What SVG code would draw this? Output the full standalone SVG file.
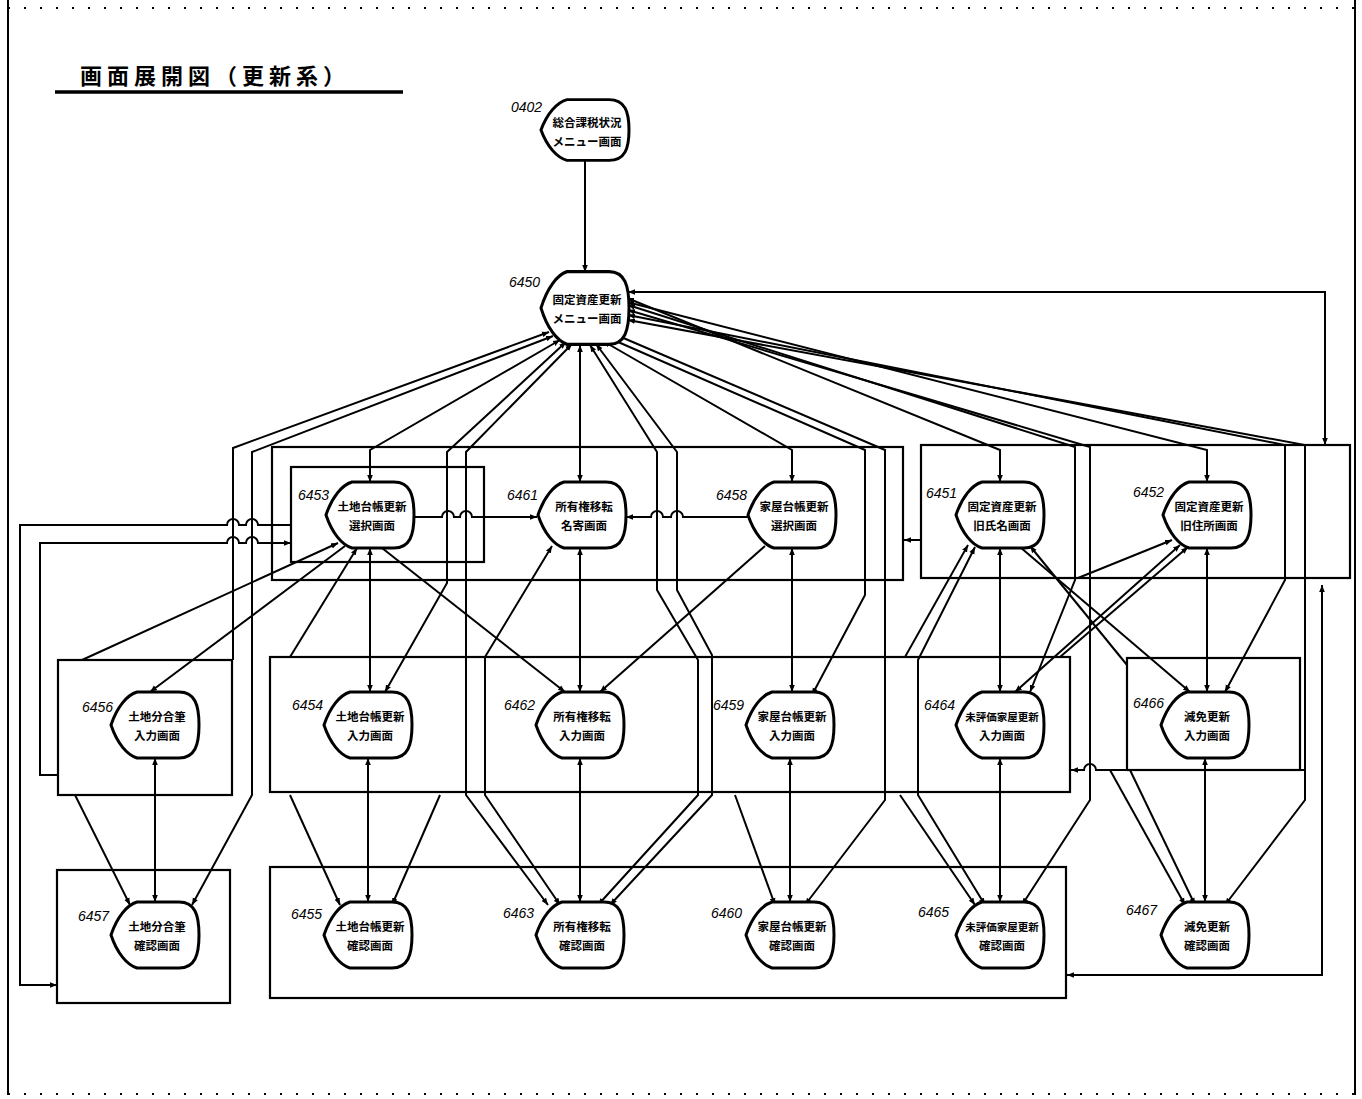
<svg xmlns="http://www.w3.org/2000/svg" width="1362" height="1099" viewBox="0 0 1362 1099">
<defs>
<style>
.c{fill:none;stroke:#000;stroke-width:2}
.b{fill:none;stroke:#000;stroke-width:2.2}
.n{fill:#fff;stroke:#000;stroke-width:3}
.t{font-family:"Noto Sans CJK JP","Noto Sans CJK SC",sans-serif;font-size:11.5px;font-weight:bold;text-anchor:middle}
.l{font-family:"Liberation Sans",sans-serif;font-style:italic;font-size:14px}
.f{stroke:#000;stroke-width:2;fill:none}
</style>
<marker id="a" viewBox="0 0 10 10" refX="10" refY="5" markerWidth="7" markerHeight="7" markerUnits="userSpaceOnUse" orient="auto-start-reverse"><path d="M0,1 L10,5 L0,9 Z" fill="#000"/></marker>
<path id="s" d="M-44,0 C-38,-18 -28,-30 -18,-33 L24,-33 C40,-33 44,-20 44,0 C44,20 40,33 24,33 L-18,33 C-28,30 -38,18 -44,0 Z"/>
</defs>
<rect width="1362" height="1099" fill="#fff"/>
<g id="frame">
<path class="f" d="M8,0 V1095"/>
<path class="f" d="M1355,0 V1095"/>
<path class="f" stroke-dasharray="2 14" d="M8,8 H1355"/>
<path class="f" stroke-dasharray="2 14" d="M8,1094 H1355"/>
</g>
<g id="title">
<text x="80" y="84" style="font-family:'Noto Sans CJK JP',sans-serif;font-size:22px;font-weight:bold;letter-spacing:5px">画面展開図（更新系）</text>
<path d="M55,92 H403" stroke="#000" stroke-width="3.5"/>
</g>
<g id="boxes">
<rect class="b" x="272" y="447" width="631" height="133"/>
<rect class="b" x="291" y="467" width="193" height="95"/>
<rect class="b" x="921" y="445" width="429" height="133"/>
<rect class="b" x="58" y="660" width="174" height="135"/>
<rect class="b" x="270" y="657" width="800" height="135"/>
<rect class="b" x="1127" y="658" width="173" height="112"/>
<rect class="b" x="57" y="870" width="173" height="133"/>
<rect class="b" x="270" y="867" width="796" height="131"/>
</g>
<g id="connectors">
<path class="c" marker-end="url(#a)" d="M585,160 V272"/>
<path class="c" marker-end="url(#a)" d="M233,660 V448 L549,332"/>
<path class="c" marker-start="url(#a)" marker-end="url(#a)" d="M192,905 L252,795 V452 L553,336"/>
<path class="c" marker-start="url(#a)" marker-end="url(#a)" d="M560,340 L370,450 V482"/>
<path class="c" marker-start="url(#a)" marker-end="url(#a)" d="M385,692 L447,583 V452 L566,342"/>
<path class="c" marker-start="url(#a)" marker-end="url(#a)" d="M548,905 L466,795 V452 L572,344"/>
<path class="c" marker-start="url(#a)" marker-end="url(#a)" d="M580,345 V482"/>
<path class="c" marker-start="url(#a)" marker-end="url(#a)" d="M598,905 L698,795 V660 L657,590 V452 L590,345"/>
<path class="c" marker-start="url(#a)" marker-end="url(#a)" d="M610,905 L712,795 V655 L677,590 V452 L596,344"/>
<path class="c" marker-start="url(#a)" marker-end="url(#a)" d="M603,341 L792,450 V482"/>
<path class="c" marker-start="url(#a)" marker-end="url(#a)" d="M812,695 L865,595 V450 L609,338"/>
<path class="c" marker-start="url(#a)" marker-end="url(#a)" d="M805,905 L885,800 V450 L614,334"/>
<path class="c" marker-start="url(#a)" marker-end="url(#a)" d="M628,292 H1325 V445"/>
<path class="c" marker-start="url(#a)" marker-end="url(#a)" d="M627,298 L1000,450 V482"/>
<path class="c" marker-start="url(#a)" marker-end="url(#a)" d="M1030,692 L1075,580 V447 L628,305"/>
<path class="c" marker-start="url(#a)" marker-end="url(#a)" d="M1022,905 L1090,800 V447 L628,310"/>
<path class="c" marker-start="url(#a)" marker-end="url(#a)" d="M627,302 L1207,450 V482"/>
<path class="c" marker-start="url(#a)" marker-end="url(#a)" d="M1225,692 L1285,580 V445 L628,315"/>
<path class="c" marker-start="url(#a)" marker-end="url(#a)" d="M1225,905 L1305,800 V445 L628,320"/>
<path class="c" marker-end="url(#a)" d="M414,517 H442 a6,6 0 0 1 12,0 H460 a6,6 0 0 1 12,0 H537"/>
<path class="c" marker-end="url(#a)" d="M748,517 H683 a6,6 0 0 0 -12,0 H663 a6,6 0 0 0 -12,0 H626"/>
<path class="c" marker-end="url(#a)" d="M291,525 H258 a6,6 0 0 0 -12,0 H239 a6,6 0 0 0 -12,0 H20 V985 H57"/>
<path class="c" marker-end="url(#a)" d="M58,775 H40 V543 H227 a6,6 0 0 1 12,0 H246 a6,6 0 0 1 12,0 H291"/>
<path class="c" marker-end="url(#a)" d="M921,540 H904"/>
<path class="c" marker-start="url(#a)" marker-end="url(#a)" d="M1322,585 V975 H1067"/>
<path class="c" marker-end="url(#a)" d="M1305,770 H1096 a6,6 0 0 0 -12,0 H1071"/>
<path class="c" marker-start="url(#a)" marker-end="url(#a)" d="M370,548 V692"/>
<path class="c" marker-end="url(#a)" d="M345,546 L150,692"/>
<path class="c" marker-start="url(#a)" d="M338,543 L82,660"/>
<path class="c" marker-start="url(#a)" d="M357,548 L290,657"/>
<path class="c" marker-end="url(#a)" d="M382,548 L565,692"/>
<path class="c" marker-start="url(#a)" marker-end="url(#a)" d="M580,548 V692"/>
<path class="c" marker-start="url(#a)" marker-end="url(#a)" d="M552,546 L485,657 V795 L560,905"/>
<path class="c" marker-start="url(#a)" marker-end="url(#a)" d="M792,548 V692"/>
<path class="c" marker-end="url(#a)" d="M765,546 L600,692"/>
<path class="c" marker-start="url(#a)" marker-end="url(#a)" d="M1000,548 V692"/>
<path class="c" marker-start="url(#a)" d="M968,545 L905,657"/>
<path class="c" marker-start="url(#a)" marker-end="url(#a)" d="M985,905 L918,795 V660 L975,547"/>
<path class="c" marker-end="url(#a)" d="M1020,547 L1190,692"/>
<path class="c" marker-start="url(#a)" d="M1030,546 L1127,665"/>
<path class="c" marker-start="url(#a)" marker-end="url(#a)" d="M1207,548 V692"/>
<path class="c" marker-start="url(#a)" d="M1172,540 L1078,578"/>
<path class="c" marker-start="url(#a)" marker-end="url(#a)" d="M1180,545 L1015,692"/>
<path class="c" marker-start="url(#a)" d="M1188,547 L1060,657"/>
<path class="c" marker-start="url(#a)" marker-end="url(#a)" d="M155,758 V902"/>
<path class="c" marker-start="url(#a)" marker-end="url(#a)" d="M368,758 V902"/>
<path class="c" marker-start="url(#a)" marker-end="url(#a)" d="M580,758 V902"/>
<path class="c" marker-start="url(#a)" marker-end="url(#a)" d="M790,758 V902"/>
<path class="c" marker-start="url(#a)" marker-end="url(#a)" d="M1000,758 V902"/>
<path class="c" marker-start="url(#a)" marker-end="url(#a)" d="M1205,758 V902"/>
<path class="c" marker-end="url(#a)" d="M75,795 L130,905"/>
<path class="c" marker-end="url(#a)" d="M290,795 L340,905"/>
<path class="c" marker-end="url(#a)" d="M440,795 L392,905"/>
<path class="c" marker-end="url(#a)" d="M735,795 L775,905"/>
<path class="c" marker-end="url(#a)" d="M900,795 L975,905"/>
<path class="c" marker-end="url(#a)" d="M1110,770 L1185,905"/>
<path class="c" marker-end="url(#a)" d="M1130,770 L1195,905"/>
</g>
<g id="n0402"><use href="#s" transform="translate(585,130) scale(1,0.92)" class="n"/><text class="l" x="511" y="112">0402</text><text class="t" x="587" y="127">総合課税状況</text><text class="t" x="587" y="146">メニュー画面</text></g>
<g id="n6450"><use href="#s" transform="translate(585,308) scale(1,1.1)" class="n"/><text class="l" x="509" y="287">6450</text><text class="t" x="587" y="304">固定資産更新</text><text class="t" x="587" y="323">メニュー画面</text></g>
<g id="n6453"><use href="#s" x="370" y="515" class="n"/><text class="l" x="298" y="500">6453</text><text class="t" x="372" y="511">土地台帳更新</text><text class="t" x="372" y="530">選択画面</text></g>
<g id="n6461"><use href="#s" x="582" y="515" class="n"/><text class="l" x="507" y="500">6461</text><text class="t" x="584" y="511">所有権移転</text><text class="t" x="584" y="530">名寄画面</text></g>
<g id="n6458"><use href="#s" x="792" y="515" class="n"/><text class="l" x="716" y="500">6458</text><text class="t" x="794" y="511">家屋台帳更新</text><text class="t" x="794" y="530">選択画面</text></g>
<g id="n6451"><use href="#s" x="1000" y="515" class="n"/><text class="l" x="926" y="498">6451</text><text class="t" x="1002" y="511">固定資産更新</text><text class="t" x="1002" y="530">旧氏名画面</text></g>
<g id="n6452"><use href="#s" x="1207" y="515" class="n"/><text class="l" x="1133" y="497">6452</text><text class="t" x="1209" y="511">固定資産更新</text><text class="t" x="1209" y="530">旧住所画面</text></g>
<g id="n6456"><use href="#s" x="155" y="725" class="n"/><text class="l" x="82" y="712">6456</text><text class="t" x="157" y="721">土地分合筆</text><text class="t" x="157" y="740">入力画面</text></g>
<g id="n6454"><use href="#s" x="368" y="725" class="n"/><text class="l" x="292" y="710">6454</text><text class="t" x="370" y="721">土地台帳更新</text><text class="t" x="370" y="740">入力画面</text></g>
<g id="n6462"><use href="#s" x="580" y="725" class="n"/><text class="l" x="504" y="710">6462</text><text class="t" x="582" y="721">所有権移転</text><text class="t" x="582" y="740">入力画面</text></g>
<g id="n6459"><use href="#s" x="790" y="725" class="n"/><text class="l" x="713" y="710">6459</text><text class="t" x="792" y="721">家屋台帳更新</text><text class="t" x="792" y="740">入力画面</text></g>
<g id="n6464"><use href="#s" x="1000" y="725" class="n"/><text class="l" x="924" y="710">6464</text><text class="t" x="1002" y="721" style="font-size:10.5px">未評価家屋更新</text><text class="t" x="1002" y="740">入力画面</text></g>
<g id="n6466"><use href="#s" x="1205" y="725" class="n"/><text class="l" x="1133" y="708">6466</text><text class="t" x="1207" y="721">減免更新</text><text class="t" x="1207" y="740">入力画面</text></g>
<g id="n6457"><use href="#s" x="155" y="935" class="n"/><text class="l" x="78" y="921">6457</text><text class="t" x="157" y="931">土地分合筆</text><text class="t" x="157" y="950">確認画面</text></g>
<g id="n6455"><use href="#s" x="368" y="935" class="n"/><text class="l" x="291" y="919">6455</text><text class="t" x="370" y="931">土地台帳更新</text><text class="t" x="370" y="950">確認画面</text></g>
<g id="n6463"><use href="#s" x="580" y="935" class="n"/><text class="l" x="503" y="918">6463</text><text class="t" x="582" y="931">所有権移転</text><text class="t" x="582" y="950">確認画面</text></g>
<g id="n6460"><use href="#s" x="790" y="935" class="n"/><text class="l" x="711" y="918">6460</text><text class="t" x="792" y="931">家屋台帳更新</text><text class="t" x="792" y="950">確認画面</text></g>
<g id="n6465"><use href="#s" x="1000" y="935" class="n"/><text class="l" x="918" y="917">6465</text><text class="t" x="1002" y="931" style="font-size:10.5px">未評価家屋更新</text><text class="t" x="1002" y="950">確認画面</text></g>
<g id="n6467"><use href="#s" x="1205" y="935" class="n"/><text class="l" x="1126" y="915">6467</text><text class="t" x="1207" y="931">減免更新</text><text class="t" x="1207" y="950">確認画面</text></g>
</svg>
